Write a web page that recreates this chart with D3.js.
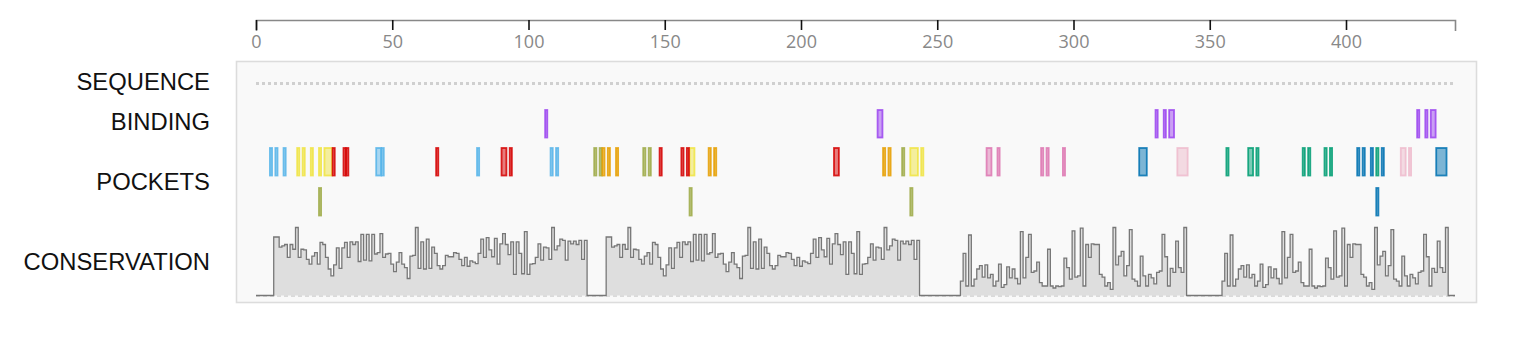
<!DOCTYPE html>
<html>
<head>
<meta charset="utf-8">
<script src="https://cdn.jsdelivr.net/npm/d3@7"></script>
<style>
  body { margin: 0; background: #fff; }
  .label { font-family: "Liberation Sans", Arial, sans-serif; font-size: 23.8px; fill: #111; }
  .axis text { font-family: "Open Sans", sans-serif; font-size: 18px; fill: #888; }
</style>
</head>
<body>
<div id="chart"></div>
<script>
(() => {
    const seqLength = 440;
    const tickValues = [0, 50, 100, 150, 200, 250, 300, 350, 400];
    const trackNames = ['SEQUENCE', 'BINDING', 'POCKETS', 'CONSERVATION'];

    // conservation scores per residue (chain A and chain B)
    const chainA = [
        0.86,0.86,0.71,0.73,0.75,0.56,0.75,0.68,1.00,0.56,
        0.68,0.67,0.53,0.46,0.58,0.63,0.46,0.78,0.75,0.56,
        0.39,0.29,0.45,0.70,0.40,0.70,0.78,0.56,0.79,0.75,
        0.79,0.50,0.90,0.52,0.90,0.51,0.90,0.61,0.63,
        0.91,0.56,0.61,0.62,0.46,0.35,0.49,0.63,0.46,0.41,
        0.25,0.58,0.59,1.00,0.40,0.79,0.39,0.83,0.40,0.71,
        0.62,0.44,0.39,0.44,0.59,0.57,0.57,0.63,0.62,0.53,
        0.44,0.56,0.43,0.51,0.49,0.47,0.62,0.83,0.56,
        0.85,0.67,0.57,0.84,0.46,0.76,0.91,0.75,0.60,0.79,
        0.31,0.79,0.62,0.32,0.94,0.31,0.46,0.47,0.56,0.76,
        0.52,0.71,0.70,0.53,1.00,0.67,0.73,0.83,0.81,0.52,
        0.80,0.76,0.80,0.75,0.81,0.53,0.81
    ];
    const chainB = [
        0.21,0.62,0.14,0.89,0.14,0.24,0.39,0.44,0.27,0.45,
        0.26,0.31,0.14,0.21,0.46,0.12,0.16,0.42,0.26,0.39,
        0.25,0.17,0.94,0.26,0.56,0.90,0.34,0.36,0.49,0.19,
        0.14,0.14,0.68,0.14,0.11,0.14,0.13,0.14,0.55,0.41,
        0.24,0.95,0.27,0.29,0.99,0.14,0.75,0.56,0.76,0.75,
        0.75,0.31,0.27,0.14,0.19,0.09,1.00,0.45,0.58,0.65,
        0.29,0.44,0.97,0.24,0.21,0.14,0.58,0.29,0.14,0.31,
        0.26,0.17,0.34,0.36,0.90,0.57,0.14,0.40,0.34,0.80,
        0.41,0.34,1.00
    ];
    const chainStarts = [
        { start: 7, scores: chainA },
        { start: 129, scores: chainA },
        { start: 259, scores: chainB },
        { start: 355, scores: chainB }
    ];

    // binding residues, [start, end]
    const binding = [[106,106],[228,229],[330,330],[333,333],[335,336],[426,426],[429,429],[431,432]];

    // pockets, each a list of [start, end] fragments
    const pockets = [
        [[5,5],[7,7],[10,10],[44,45],[46,46],[81,81],[108,108],[110,110]],
        [[15,15],[17,17],[20,20],[23,23],[25,27],[159,160],[240,242],[244,244]],
        [[28,28],[32,32],[33,33],[66,66],[90,91],[93,93],[148,148],[156,156],[158,158],[212,213]],
        [[124,124],[126,126],[142,142],[144,144],[237,237]],
        [[127,127],[129,129],[132,132],[166,166],[168,168],[230,230],[232,232]],
        [[268,269],[272,272],[288,288],[290,290],[296,296]],
        [[324,326],[404,404],[406,406],[409,409],[413,413],[433,436]],
        [[338,341],[420,421],[423,423]],
        [[356,356],[364,365],[367,367],[384,384],[386,386],[392,392],[394,394],[411,411]],
        [[23,23],[159,159],[240,240]],
        [[411,411]]
    ];
    const pocketColors = ['#56B4E9','#F0E442','#D50000','#9DAA46','#E69F00','#DD77B2',
                          '#0072B2','#EEBBCC','#009E73','#9DAA46','#0072B2'];
    const bindingColor = '#9B45F0';

    const width = 1526, height = 364;
    const svg = d3.select('#chart').append('svg')
        .attr('width', width)
        .attr('height', height);

    const x = d3.scaleLinear().domain([0, seqLength]).range([256, 1455]);

    // panel
    svg.append('rect')
        .attr('x', 236.5).attr('y', 61.5)
        .attr('width', 1240).attr('height', 241)
        .attr('fill', '#f9f9f9')
        .attr('stroke', '#dcdcdc')
        .attr('stroke-width', 1.6);

    // axis
    const axis = svg.append('g')
        .attr('class', 'axis')
        .attr('transform', 'translate(0,20)')
        .call(d3.axisBottom(x).tickValues(tickValues).tickSize(10).tickSizeOuter(11).tickPadding(5));
    axis.select('.domain').attr('stroke', '#888').attr('stroke-width', 1.6);
    axis.selectAll('.tick line').attr('stroke', '#111').attr('stroke-width', 1.6);

    // labels
    const labelY = [82, 122, 182, 262];
    svg.selectAll('.label')
        .data(trackNames)
        .enter()
        .append('text')
        .attr('class', 'label')
        .attr('x', 210)
        .attr('y', (d, i) => labelY[i])
        .attr('dy', '0.35em')
        .attr('text-anchor', 'end')
        .text(d => d);

    // sequence track
    svg.append('line')
        .attr('x1', x(0)).attr('x2', x(seqLength))
        .attr('y1', 83.5).attr('y2', 83.5)
        .attr('stroke', '#d0d0d0')
        .attr('stroke-width', 3)
        .attr('stroke-dasharray', '3,3');

    function drawFeatures(data, y, h) {
        svg.append('g').selectAll('rect')
            .data(data)
            .enter()
            .append('rect')
            .attr('x', d => x(d.start) + 0.3)
            .attr('width', d => x(d.end + 1) - x(d.start) - 0.6)
            .attr('y', d => y + d.row * 40)
            .attr('height', h)
            .attr('fill', d => d.color)
            .attr('fill-opacity', 0.5)
            .attr('stroke', d => d.color)
            .attr('stroke-opacity', 0.85)
            .attr('stroke-width', 1.8);
    }

    drawFeatures(binding.map(b => ({ start: b[0], end: b[1], row: 0, color: bindingColor })), 110, 27.5);

    // pack pockets into rows so that no two share a residue in the same row
    let rows = [];
    let pocketFeatures = [];
    pockets.forEach((p, i) => {
        let r = 0;
        const hits = res => p.some(f => f[0] <= res[1] && res[0] <= f[1]);
        while (rows[r] && rows[r].some(hits)) r++;
        rows[r] = (rows[r] || []).concat(p);
        p.forEach(f => pocketFeatures.push({ start: f[0], end: f[1], row: r, color: pocketColors[i] }));
    });
    drawFeatures(pocketFeatures, 148, 27.5);

    // conservation
    let scores = d3.range(seqLength + 1).map(pos => ({ pos: pos, value: 0 }));
    chainStarts.forEach(c => {
        c.scores.forEach((v, k) => { scores[c.start + k].value = v; });
    });
    const yC = d3.scaleLinear().domain([0, 1]).range([295.5, 227.5]);

    svg.append('line')
        .attr('x1', x(0)).attr('x2', x(seqLength))
        .attr('y1', 296).attr('y2', 296)
        .attr('stroke', '#bbb')
        .attr('stroke-dasharray', '4,3');

    svg.append('path')
        .datum(scores)
        .attr('fill', '#dedede')
        .attr('d', d3.area().curve(d3.curveStep).x(d => x(d.pos)).y0(yC(0)).y1(d => yC(d.value)));

    svg.append('path')
        .datum(scores)
        .attr('fill', 'none')
        .attr('stroke', '#777')
        .attr('stroke-width', 1.3)
        .attr('d', d3.line().curve(d3.curveStep).x(d => x(d.pos)).y(d => yC(d.value)));
})();
</script>
</body>
</html>
